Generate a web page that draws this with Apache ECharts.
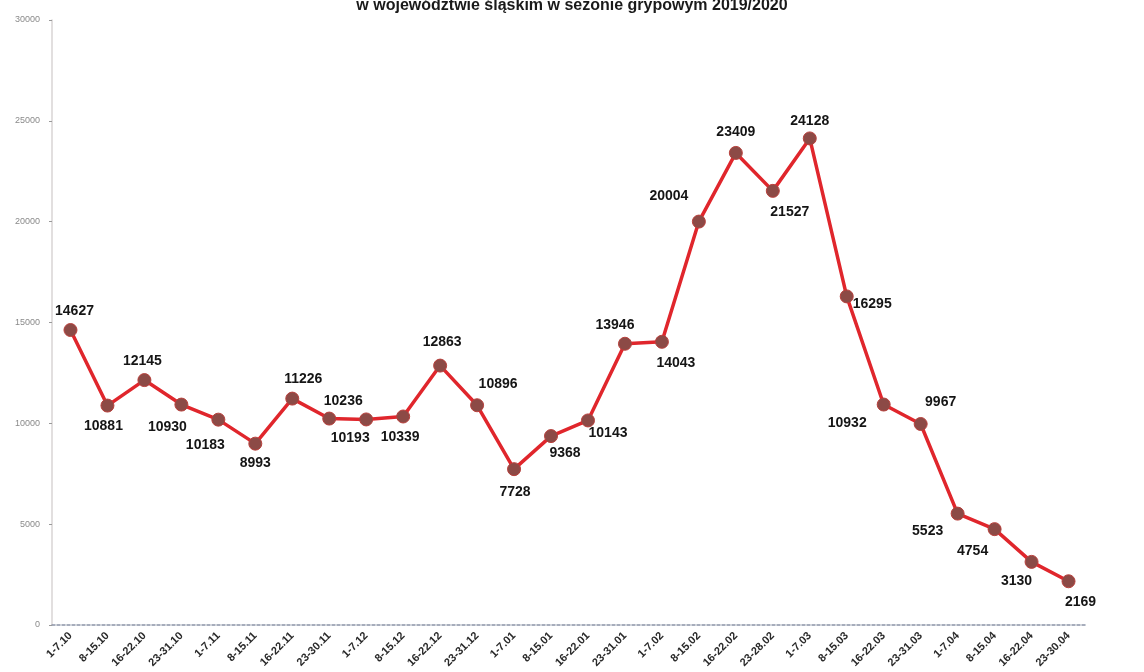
<!DOCTYPE html>
<html>
<head>
<meta charset="utf-8">
<script src="https://cdn.jsdelivr.net/npm/echarts@6/dist/echarts.min.js"></script>
<style>
html,body{margin:0;padding:0;background:#fff;}
#chart{width:1144px;height:672px;}
</style>
</head>
<body>
<div id="chart"></div>
<script>
var titleText = 'w województwie śląskim w sezonie grypowym 2019/2020';
var categories = ['1-7.10','8-15.10','16-22.10','23-31.10','1-7.11','8-15.11','16-22.11','23-30.11','1-7.12','8-15.12','16-22.12','23-31.12','1-7.01','8-15.01','16-22.01','23-31.01','1-7.02','8-15.02','16-22.02','23-28.02','1-7.03','8-15.03','16-22.03','23-31.03','1-7.04','8-15.04','16-22.04','23-30.04'];
var values = [14627,10881,12145,10930,10183,8993,11226,10236,10193,10339,12863,10896,7728,9368,10143,13946,14043,20004,23409,21527,24128,16295,10932,9967,5523,4754,3130,2169];
var yMin = 0, yMax = 30000, yStep = 5000;

// label placement (style only)
var labelPlace = [
  ['top',[4,0]],['bottom',[-4,2]],['top',[-2,0]],['bottom',[-14,4]],['bottom',[-13,6]],
  ['bottom',[0,0]],['top',[11,0]],['top',[14,2]],['bottom',[-16,0]],['bottom',[-3,2]],
  ['top',[2,-4]],['top',[21,-2]],['bottom',[1,4]],['bottom',[14,-2]],['bottom',[20,-6]],
  ['top',[-10,0]],['bottom',[14,2]],['top',[-30,-6]],['top',[0,-2]],['bottom',[17,2]],
  ['top',[0,2]],['right',[-6,8]],['left',[-5,19]],['top',[20,-3]],['bottom',[-30,-1]],
  ['bottom',[-22,3]],['bottom',[-15,0]],['bottom',[12,2]]
];

var seriesData = values.map(function(v,i){
  return {value:v, label:{position:labelPlace[i][0], offset:labelPlace[i][1]}};
});

var chart = echarts.init(document.getElementById('chart'), null, {renderer:'canvas'});
chart.setOption({
  animation:false,
  backgroundColor:'#ffffff',
  title:{
    text:titleText, left:567, textAlign:'center', top:-7,
    textStyle:{fontFamily:'Liberation Sans', fontWeight:'bold', fontSize:16, color:'#1a1a1a'}
  },
  grid:{left:52, right:57, top:20, bottom:47},
  xAxis:{
    type:'category', data:categories, boundaryGap:true,
    axisLine:{lineStyle:{color:'#8a93a6', width:1.5, type:[3,2]}},
    axisTick:{show:false},
    axisLabel:{rotate:45, interval:0, fontFamily:'Liberation Sans', fontSize:11, fontWeight:'bold', color:'#2a2a2a', margin:9},
    splitLine:{show:false}
  },
  yAxis:{
    type:'value', min:yMin, max:yMax, interval:yStep,
    axisLine:{show:true, lineStyle:{color:'#d8d4d4', width:1.5}},
    axisTick:{show:true, length:3, lineStyle:{color:'#999'}},
    axisLabel:{fontFamily:'Liberation Sans', fontSize:9, color:'#8a8a8a', margin:12, formatter:function(v){return String(v);}},
    splitLine:{show:false}
  },
  series:[{
    type:'line', data:seriesData,
    symbol:'circle', symbolSize:13,
    lineStyle:{color:'#e0262c', width:3.5},
    itemStyle:{color:'#8c4a46', borderColor:'#b8403c', borderWidth:1},
    label:{show:true, fontFamily:'Liberation Sans', fontSize:14, fontWeight:'bold', color:'#151515', distance:5}
  }]
});
</script>
</body>
</html>
